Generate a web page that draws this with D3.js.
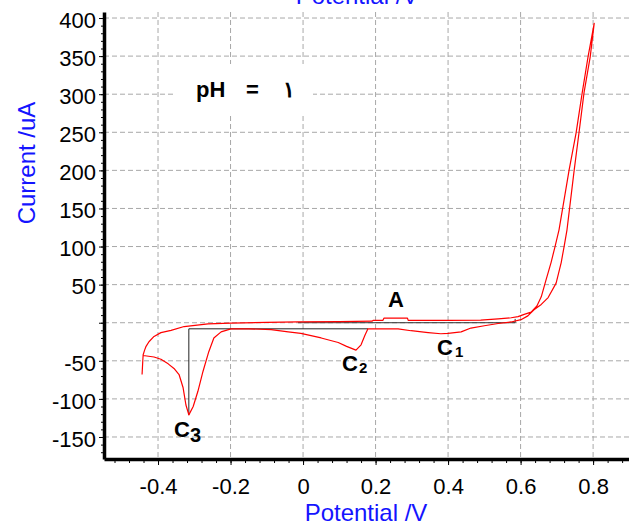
<!DOCTYPE html>
<html lang="en">

<head>
    <meta charset="UTF-8">
    <title>Cyclic Voltammogram</title>
    <script src="https://cdn.jsdelivr.net/npm/d3@7/dist/d3.min.js"></script>

    <style>

        body {
            margin: 0;
            background: #fff;
        }

        svg {
            font-family: Arial, "Liberation Sans", sans-serif;
        }

        .grid line {
            stroke: #a8a8a8;
            stroke-width: 1;
            stroke-dasharray: 5,3;
        }

        .axis path,
        .axis line {
            stroke: #000;
        }

        .axis text {
            font-size: 22px;
            fill: #000;
        }

        .title {
            font-size: 24px;
            fill: #1414ff;
        }

        .peak {
            font-size: 22px;
            font-weight: bold;
            fill: #000;
        }

    </style>

</head>

<body>

    <svg width="629" height="527"></svg>

    <script>

        // anodic sweep: from the start at -0.44 V up to the vertex at 0.8 V
        var anodicE = [-0.444, -0.442, -0.441, -0.437, -0.433, -0.425, -0.411, -0.392, -0.364, -0.328,
                       -0.262, -0.199, -0.1, -0.014, 0.1, 0.19, 0.193, 0.22, 0.223, 0.288,
                       0.29, 0.4, 0.49, 0.538, 0.574, 0.593, 0.61, 0.629, 0.645, 0.657,
                       0.670, 0.684, 0.695, 0.706, 0.734, 0.753, 0.770, 0.786, 0.803];
        var anodicI = [-68, -50, -42, -36, -31, -25, -18, -13, -10, -5,
                       -1.5, -0.5, 0.5, 1, 1.5, 2, 3, 3, 6, 6,
                       3, 3, 3.5, 5, 6.5, 8, 11, 14, 22, 34,
                       56, 79, 100, 122, 201, 249, 302, 349, 393];

        // cathodic sweep: back from 0.8 V down to -0.44 V (peaks C1, C2, C3)
        var cathodicE = [0.803, 0.792, 0.775, 0.761, 0.748, 0.728, 0.720, 0.712, 0.698, 0.676,
                         0.657, 0.637, 0.62, 0.601, 0.574, 0.538, 0.5, 0.463, 0.436, 0.4,
                         0.38, 0.345, 0.298, 0.262, 0.179, 0.171, 0.16, 0.146, 0.12, 0.097,
                         0.05, -0.006, -0.041, -0.088, -0.15, -0.199, -0.226, -0.246, -0.26, -0.276,
                         -0.29, -0.303, -0.315, -0.323, -0.331, -0.342, -0.356, -0.372, -0.392, -0.411,
                         -0.441];
        var cathodicI = [393, 349, 302, 249, 201, 122, 100, 79, 52, 33,
                         24, 17, 9, 4, 1, -1, -4, -7, -12, -14,
                         -14.5, -13, -10.5, -8, -8, -16, -29, -36, -31, -26,
                         -20, -14, -12, -9, -8, -8, -12, -20, -38, -64,
                         -90, -110, -121, -108, -85, -68, -60, -54, -48, -45,
                         -43];

        // peak baselines drawn by the instrument software
        var baseC3E = [0.179, -0.315, -0.315];
        var baseC3I = [-8, -8, -121];
        var baseAE = [-0.014, 0.585, 0.585];
        var baseAI = [0, 0, 5];

        var xTicks = [-0.4, -0.2, 0, 0.2, 0.4, 0.6, 0.8];
        var yTicks = [-150, -100, -50, 0, 50, 100, 150, 200, 250, 300, 350, 400];

        var svg = d3.select("svg"),
            plotLeft = 104, plotRight = 629, plotTop = 12, plotBottom = 459;

        var x = d3.scaleLinear().domain([-0.549, 0.899]).range([plotLeft, plotRight]);
        var y = d3.scaleLinear().domain([-178.9, 407.9]).range([plotBottom, plotTop]);

        var zip = function(es, is) { return es.map(function(e, i) { return [e, is[i]]; }); };

        // grid
        var grid = svg.append("g").attr("class", "grid");

        grid.selectAll("line.v")
            .data(xTicks)
            .enter().append("line")
            .attr("x1", function(d) { return x(d); })
            .attr("x2", function(d) { return x(d); })
            .attr("y1", plotTop)
            .attr("y2", plotBottom);

        grid.selectAll("line.h")
            .data(yTicks)
            .enter().append("line")
            .attr("x1", plotLeft)
            .attr("x2", plotRight)
            .attr("y1", function(d) { return y(d); })
            .attr("y2", function(d) { return y(d); });

        // label box for pH
        svg.append("rect")
            .attr("x", 175).attr("y", 64)
            .attr("width", 138).attr("height", 49)
            .attr("fill", "#fff");

        var ph = svg.append("text")
            .attr("class", "peak")
            .attr("y", 97)
            .attr("font-size", "24px");
        ph.append("tspan").attr("x", 196).text("pH");
        ph.append("tspan").attr("x", 246).text("=");
        ph.append("tspan").attr("x", 283).text("\u0661");

        // baselines
        var line = d3.line()
            .x(function(d) { return x(d[0]); })
            .y(function(d) { return y(d[1]); });

        svg.append("path")
            .datum(zip(baseC3E, baseC3I))
            .attr("fill", "none")
            .attr("stroke", "#222")
            .attr("stroke-width", 1)
            .attr("d", line);

        svg.append("path")
            .datum(zip(baseAE, baseAI))
            .attr("fill", "none")
            .attr("stroke", "#333")
            .attr("stroke-width", 1)
            .attr("d", line);

        // voltammogram
        svg.append("path")
            .datum(zip(anodicE, anodicI).concat(zip(cathodicE, cathodicI)))
            .attr("fill", "none")
            .attr("stroke", "#ff0000")
            .attr("stroke-width", 1.2)
            .attr("stroke-linejoin", "round")
            .attr("d", line);

        // axes
        var minorX = d3.range(-52, 90, 4).map(function(d) { return d / 100; });
        var minorY = d3.range(-170, 410, 10);

        svg.append("g")
            .attr("class", "axis")
            .attr("transform", "translate(0," + plotBottom + ")")
            .call(d3.axisBottom(x).tickValues(minorX).tickSize(4).tickSizeOuter(0).tickFormat(""))
            .select(".domain").remove();

        svg.append("g")
            .attr("class", "axis")
            .attr("transform", "translate(" + plotLeft + ",0)")
            .call(d3.axisLeft(y).tickValues(minorY).tickSize(3).tickSizeOuter(0).tickFormat(""))
            .select(".domain").remove();

        var xAxis = svg.append("g")
            .attr("class", "axis")
            .attr("transform", "translate(0," + plotBottom + ")")
            .call(d3.axisBottom(x).tickValues(xTicks).tickSize(6).tickSizeOuter(0).tickPadding(13)
                .tickFormat(function(d) { return d === 0 ? "0" : d.toFixed(1); }));
        xAxis.select(".domain").attr("stroke-width", 3.5);

        var yAxis = svg.append("g")
            .attr("class", "axis")
            .attr("transform", "translate(" + plotLeft + ",0)")
            .call(d3.axisLeft(y).tickValues(yTicks).tickSize(5).tickSizeOuter(0).tickPadding(3)
                .tickFormat(function(d) { return d === 0 ? "" : String(d); }));
        yAxis.select(".domain").attr("stroke-width", 3.5);
        yAxis.selectAll("text").attr("dy", "0.42em");

        // axis titles
        svg.append("text")
            .attr("class", "title")
            .attr("x", 366).attr("y", 521)
            .attr("text-anchor", "middle")
            .text("Potential /V");

        svg.append("text")
            .attr("class", "title")
            .attr("x", 357).attr("y", 4)
            .attr("text-anchor", "middle")
            .text("Potential /V");

        svg.append("text")
            .attr("class", "title")
            .attr("transform", "translate(35,163) rotate(-90)")
            .attr("text-anchor", "middle")
            .text("Current /uA");

        // peak labels
        svg.append("text").attr("class", "peak")
            .attr("x", 388).attr("y", 307)
            .text("A");

        var c1 = svg.append("text").attr("class", "peak").attr("x", 437).attr("y", 355);
        c1.append("tspan").text("C");
        c1.append("tspan").attr("font-size", "15px").attr("dx", 2).attr("dy", 2).text("1");

        var c2 = svg.append("text").attr("class", "peak").attr("x", 342).attr("y", 371);
        c2.append("tspan").text("C");
        c2.append("tspan").attr("font-size", "15px").attr("dx", 1).attr("dy", 2).text("2");

        var c3 = svg.append("text").attr("class", "peak").attr("font-size", "24px").attr("x", 174).attr("y", 437);
        c3.append("tspan").text("C");
        c3.append("tspan").attr("font-size", "20px").attr("dy", 5).text("3");

    </script>

</body>

</html>
